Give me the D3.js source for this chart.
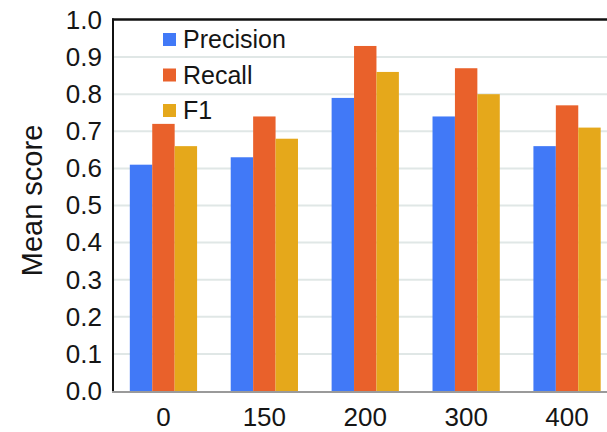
<!DOCTYPE html>
<html>
<head>
<meta charset="utf-8">
<script src="https://cdn.jsdelivr.net/npm/d3@7"></script>
<style>
  html, body { margin: 0; padding: 0; background: #fff; }
  svg { display: block; font-family: "Liberation Sans", Arial, Helvetica, sans-serif; }
</style>
</head>
<body>
<svg id="chart" width="607" height="432"></svg>
<script>
// Mean scores per setting
const categories = ["0", "150", "200", "300", "400"];
const seriesNames = ["Precision", "Recall", "F1"];
const precision = [0.61, 0.63, 0.79, 0.74, 0.66];
const recall    = [0.72, 0.74, 0.93, 0.87, 0.77];
const f1        = [0.66, 0.68, 0.86, 0.80, 0.71];
const yTicks = [0.0, 0.1, 0.2, 0.3, 0.4, 0.5, 0.6, 0.7, 0.8, 0.9, 1.0];
const colors = ["#4179F7", "#E9612B", "#E5A81B"];

const seriesValues = [precision, recall, f1];

const svg = d3.select("#chart");
const plotLeft = 113, plotTop = 20, plotBottom = 391;
const plotRight = 617.5; // plot continues slightly past the canvas edge

const x = d3.scaleBand()
  .domain(categories)
  .range([plotLeft, plotRight])
  .paddingInner(1 / 3)
  .paddingOuter(1 / 6);

const xInner = d3.scaleBand()
  .domain(seriesNames)
  .range([0, x.bandwidth()]);

const y = d3.scaleLinear().domain([0, 1]).range([plotBottom, plotTop]);

// Horizontal gridlines
svg.append("g")
  .selectAll("line")
  .data(yTicks.filter(t => t > 0 && t < 1))
  .join("line")
  .attr("x1", plotLeft)
  .attr("x2", 607)
  .attr("y1", d => y(d))
  .attr("y2", d => y(d))
  .attr("stroke", "#e0e7e6")
  .attr("stroke-width", 2);

// Bars
const rows = categories.map((c, i) => ({
  cat: c,
  vals: seriesNames.map((s, j) => ({ s, j, v: seriesValues[j][i] }))
}));

svg.append("g")
  .selectAll("g")
  .data(rows)
  .join("g")
  .attr("transform", d => `translate(${x(d.cat)},0)`)
  .selectAll("rect")
  .data(d => d.vals)
  .join("rect")
  .attr("x", d => xInner(d.s))
  .attr("width", xInner.bandwidth())
  .attr("y", d => y(d.v))
  .attr("height", d => y(0) - y(d.v))
  .attr("fill", d => colors[d.j]);

// Frame: top border, left axis, baseline
svg.append("line")
  .attr("x1", plotLeft - 1).attr("x2", 607)
  .attr("y1", y(1) - 0.5).attr("y2", y(1) - 0.5)
  .attr("stroke", "#111").attr("stroke-width", 2.5);
svg.append("line")
  .attr("x1", plotLeft).attr("x2", plotLeft)
  .attr("y1", y(1) - 1.5).attr("y2", plotBottom + 1)
  .attr("stroke", "#111").attr("stroke-width", 2);
svg.append("line")
  .attr("x1", plotLeft - 1).attr("x2", 607)
  .attr("y1", plotBottom + 1).attr("y2", plotBottom + 1)
  .attr("stroke", "#9a9a9a").attr("stroke-width", 2);

// Y tick labels
const yAxis = d3.axisLeft(y)
  .tickValues(yTicks)
  .tickFormat(d3.format(".1f"))
  .tickSize(0)
  .tickPadding(0);
const gy = svg.append("g")
  .attr("transform", `translate(${plotLeft - 11},0)`)
  .call(yAxis);
gy.select(".domain").remove();
gy.selectAll("text")
  .attr("font-size", 26)
  .attr("fill", "#151515")
  .attr("font-family", "Liberation Sans, Arial, sans-serif");

// X tick labels
const xAxis = d3.axisBottom(x).tickSize(0).tickPadding(0);
const gx = svg.append("g")
  .attr("transform", `translate(0,${plotBottom})`)
  .call(xAxis);
gx.select(".domain").remove();
gx.selectAll("text")
  .attr("dy", null)
  .attr("y", 35)
  .attr("font-size", 26)
  .attr("fill", "#151515")
  .attr("font-family", "Liberation Sans, Arial, sans-serif");

// Y axis title
svg.append("text")
  .attr("transform", `translate(41.5,200.5) rotate(-90)`)
  .attr("text-anchor", "middle")
  .attr("font-size", 29)
  .attr("fill", "#151515")
  .text("Mean score");

// Legend
const legend = svg.append("g")
  .selectAll("g")
  .data(seriesNames)
  .join("g")
  .attr("transform", (d, i) => `translate(163,${39.5 + i * 35.5})`);
legend.append("rect")
  .attr("x", 0).attr("y", -6.5)
  .attr("width", 13).attr("height", 13)
  .attr("fill", (d, i) => colors[i]);
legend.append("text")
  .attr("x", 20)
  .attr("y", 8.5)
  .attr("font-size", 25)
  .attr("fill", "#151515")
  .text(d => d);
</script>
</body>
</html>
